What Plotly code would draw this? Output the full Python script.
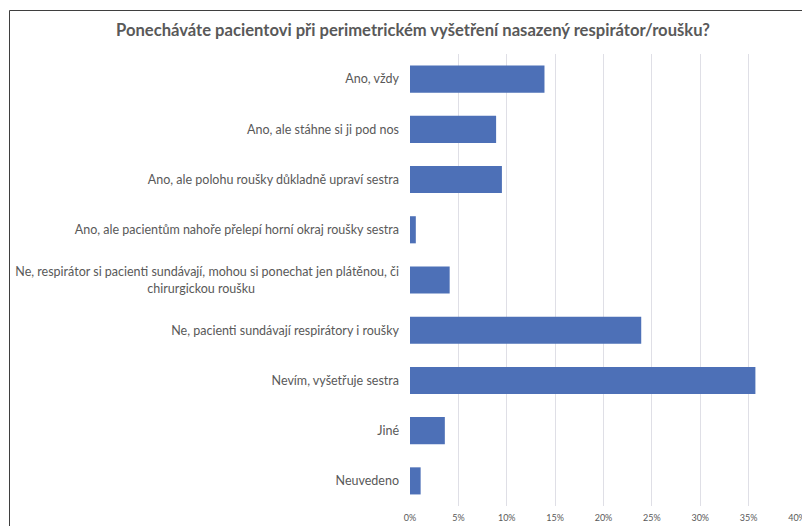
import plotly.graph_objects as go


# ==========================================
# Data
# ==========================================

categories = [
    "Ano, vždy",
    "Ano, ale stáhne si ji pod nos",
    "Ano, ale polohu roušky důkladně upraví sestra",
    "Ano, ale pacientům nahoře přelepí horní okraj roušky sestra",
    "Ne, respirátor si pacienti sundávají, mohou si ponechat jen plátěnou, či<br>chirurgickou roušku",
    "Ne, pacienti sundávají respirátory i roušky",
    "Nevím, vyšetřuje sestra",
    "Jiné",
    "Neuvedeno",
]

shares = [0.139, 0.089, 0.095, 0.006, 0.041, 0.239, 0.357, 0.036, 0.011]

tick_values = [0, 0.05, 0.10, 0.15, 0.20, 0.25, 0.30, 0.35, 0.40]

title_text = "Ponecháváte pacientovi při perimetrickém vyšetření nasazený respirátor/roušku?"


# ==========================================
# Figure
# ==========================================

FONT = "Lato, 'Open Sans', sans-serif"

# the page body adds an 8px offset, so layout is set relative to that
W, H = 810, 526
L, R, T, B = 402, 21, 46, 28

# tick labels are right-aligned; pad the wrapped line so it sits centred
tick_text = [c.replace("<br>chirurgickou roušku", "<br>chirurgickou roušku" + "&nbsp;" * 45)
             for c in categories]

fig = go.Figure(
    go.Bar(
        x=shares,
        y=categories,
        orientation="h",
        marker=dict(color="#4d70b7", line=dict(width=0)),
    )
)

# frame around the whole chart (right and bottom edges fall outside the picture)
plot_w = W - L - R
plot_h = H - T - B
fig.add_shape(
    type="rect",
    xref="paper", yref="paper",
    x0=(1.5 - L) / plot_w, x1=(W + 20 - L) / plot_w,
    y0=((H - B) - (H + 20)) / plot_h, y1=((H - B) - 2.5) / plot_h,
    line=dict(color="#3f3f3f", width=1),
    layer="below",
)

fig.update_layout(
    width=W,
    height=H,
    margin=dict(l=L, r=R, t=T, b=B, autoexpand=False),
    paper_bgcolor="white",
    plot_bgcolor="white",
    bargap=0.46,
    showlegend=False,
    font=dict(family=FONT, size=12, color="#595959"),
    title=dict(
        text="<b>" + title_text + "</b>",
        xref="container",
        x=405 / W,
        xanchor="center",
        y=1 - 22 / H,
        yanchor="middle",
        font=dict(family=FONT, size=16.6, color="#595959"),
    ),
    xaxis=dict(
        range=[0, 0.4],
        tickvals=tick_values,
        tickformat=".0%",
        tickfont=dict(size=9, color="#595959"),
        ticklabelstandoff=5,
        showgrid=True,
        gridcolor="#dfdfe6",
        gridwidth=1,
        zeroline=False,
        showline=False,
        ticks="",
        automargin=False,
        fixedrange=True,
    ),
    yaxis=dict(
        autorange="reversed",
        tickmode="array",
        tickvals=categories,
        ticktext=tick_text,
        tickfont=dict(size=12.5, color="#595959"),
        ticklabelstandoff=10,
        showgrid=False,
        showline=False,
        ticks="",
        automargin=False,
        fixedrange=True,
    ),
)

fig.write_html("out.html")
